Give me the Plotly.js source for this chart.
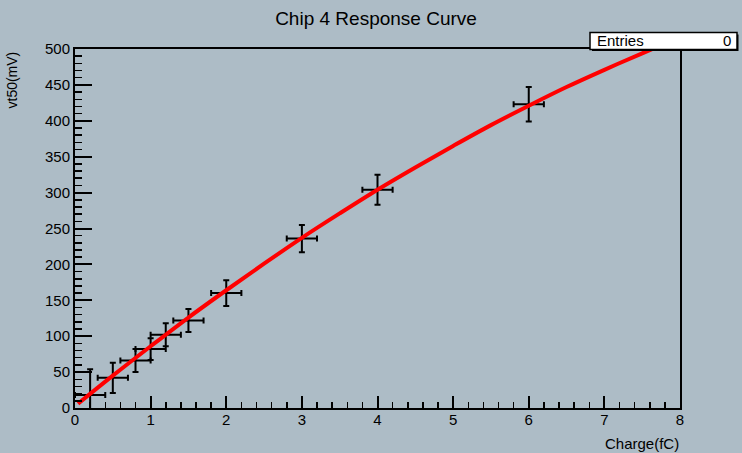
<!DOCTYPE html>
<html>
<head>
<meta charset="utf-8">
<script src="https://cdn.plot.ly/plotly-3.0.1.min.js"></script>
<style>html,body{margin:0;padding:0;background:#adbcc6;}#chart{width:742px;height:453px;}</style>
</head>
<body>
<div id="chart"></div>
<script>
// Measured data points (charge in fC, vt50 in mV)
var chargeX = [0.2, 0.5, 0.8, 1.0, 1.2, 1.5, 2, 3, 4, 6];
var vt50Y = [18, 42, 66, 82, 102, 122, 160, 236, 304, 423];
var errX = [0.2, 0.2, 0.2, 0.2, 0.2, 0.2, 0.2, 0.2, 0.2, 0.2];
var errY = [36, 21, 16, 15, 16, 16, 18, 19, 21, 24];

// Fit curve
var fitX = [0.04, 0.5, 1, 1.5, 2, 2.5, 3, 3.5, 4, 4.5, 5, 5.5, 6, 6.5, 7, 7.5, 7.7];
var fitY = [6, 45, 86, 126, 164, 201, 237, 271, 304, 335, 365, 394, 421, 447, 471, 494, 503];

var xTicks = [0, 1, 2, 3, 4, 5, 6, 7, 8];
var yTicks = [0, 50, 100, 150, 200, 250, 300, 350, 400, 450, 500];

var BG = '#adbcc6';
var FONT = 'Liberation Sans, Arial, sans-serif';

var L = 75, R = 680, T = 49, B = 408;
function px(x){ return (x - L) / (R - L); }
function py(y){ return (B - y) / (B - T); }

var traces = [
  {
    x: chargeX, y: vt50Y, type: 'scatter', mode: 'markers',
    marker: {color: 'black', size: 2},
    error_x: {type: 'data', array: errX, visible: true, color: 'black', thickness: 2, width: 3},
    error_y: {type: 'data', array: errY, visible: true, color: 'black', thickness: 2, width: 3},
    hoverinfo: 'none', showlegend: false
  },
  {
    x: fitX, y: fitY, type: 'scatter', mode: 'lines',
    line: {color: '#ff0000', width: 4, shape: 'spline'},
    hoverinfo: 'none', showlegend: false
  }
];

var layout = {
  width: 742, height: 453,
  paper_bgcolor: BG, plot_bgcolor: BG,
  margin: {l: L, r: 742 - R, t: T, b: 453 - B, pad: 0},
  font: {family: FONT, color: 'black', size: 15},
  title: {text: 'Chip 4 Response Curve', font: {family: FONT, size: 19, color: 'black'},
          x: 376 / 742, xanchor: 'center', y: 1 - 18 / 453, yanchor: 'middle'},
  xaxis: {
    range: [0, 8], tickvals: xTicks, ticktext: xTicks.map(String),
    ticks: 'inside', ticklen: 12, tickwidth: 2, tickcolor: 'black',
    minor: {dtick: 0.2, ticks: 'inside', ticklen: 6, tickwidth: 1.5, tickcolor: 'black', showgrid: false},
    showgrid: false, zeroline: false,
    showline: true, linecolor: 'black', linewidth: 2, mirror: true,
    ticklabelstandoff: -3,
    tickfont: {family: FONT, size: 15, color: 'black'}
  },
  yaxis: {
    range: [0, 500], tickvals: yTicks, ticktext: yTicks.map(String),
    ticks: 'inside', ticklen: 17, tickwidth: 2, tickcolor: 'black',
    minor: {dtick: 10, ticks: 'inside', ticklen: 7, tickwidth: 1.5, tickcolor: 'black', showgrid: false},
    showgrid: false, zeroline: false,
    showline: true, linecolor: 'black', linewidth: 2, mirror: true,
    tickfont: {family: FONT, size: 15, color: 'black'}
  },
  shapes: [
    {type: 'rect', xref: 'paper', yref: 'paper', x0: px(592), x1: px(738.5), y0: py(51), y1: py(34.5),
     fillcolor: 'black', line: {width: 0}},
    {type: 'rect', xref: 'paper', yref: 'paper', x0: px(590), x1: px(737), y0: py(49.5), y1: py(32.5),
     fillcolor: 'white', line: {color: 'black', width: 1.5}}
  ],
  annotations: [
    {text: 'Entries', xref: 'paper', yref: 'paper', x: px(595), y: py(41), xanchor: 'left', yanchor: 'middle',
     showarrow: false, font: {family: FONT, size: 15, color: 'black'}},
    {text: '0', xref: 'paper', yref: 'paper', x: px(733), y: py(41), xanchor: 'right', yanchor: 'middle',
     showarrow: false, font: {family: FONT, size: 15, color: 'black'}},
    {text: 'Charge(fC)', xref: 'paper', yref: 'paper', x: px(681), y: py(443), xanchor: 'right', yanchor: 'middle',
     showarrow: false, font: {family: FONT, size: 15, color: 'black'}},
    {text: 'vt50(mV)', xref: 'paper', yref: 'paper', x: px(12), y: py(50), xanchor: 'center', yanchor: 'top',
     textangle: -90, showarrow: false, font: {family: FONT, size: 14, color: 'black'}}
  ]
};

Plotly.newPlot('chart', traces, layout, {displayModeBar: false, staticPlot: true});
</script>
</body>
</html>
